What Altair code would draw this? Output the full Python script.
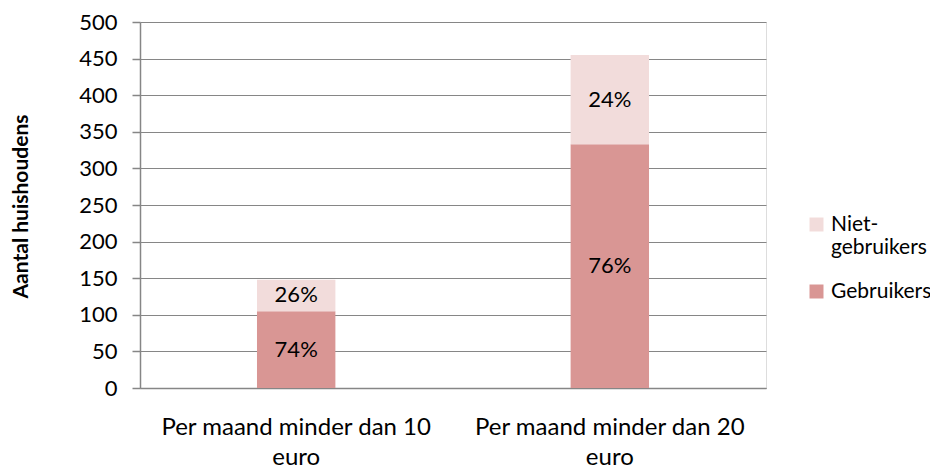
import altair as alt
import pandas as pd

categories = ["Per maand minder dan 10 euro", "Per maand minder dan 20 euro"]
series = ["Gebruikers", "Niet-gebruikers"]
gebruikers = [105, 333]
niet_gebruikers = [43, 122]
pct_gebruikers = ["74%", "76%"]
pct_niet = ["26%", "24%"]
colors = ["#D99694", "#F2DCDB"]
y_ticks = [0, 50, 100, 150, 200, 250, 300, 350, 400, 450, 500]

rows = []
for i, c in enumerate(categories):
    rows.append({"cat": c, "serie": series[0], "val": gebruikers[i], "lbl": pct_gebruikers[i], "ord": 0})
    rows.append({"cat": c, "serie": series[1], "val": niet_gebruikers[i], "lbl": pct_niet[i], "ord": 1})
df = pd.DataFrame(rows)

FONT = "Lato"

x_axis = alt.Axis(labelAngle=0, labelFontSize=24, labelFont=FONT, labelColor="#000000",
                  labelExpr="datum.label == '" + categories[0] + "' ? ['Per maand minder dan 10', 'euro'] : ['Per maand minder dan 20', 'euro']",
                  labelLineHeight=30, labelPadding=27, labelLimit=400, labelBaseline="top",
                  ticks=False, domain=True,
                  domainColor="#868686", domainWidth=1.5, grid=False)
x_scale = alt.Scale(paddingInner=0.75, paddingOuter=0.373)

y_axis = alt.Axis(values=y_ticks, tickCount=20, labelFontSize=22, labelFont=FONT, labelColor="#000000",
                  labelOverlap=False, labelPadding=15, tickSize=8, tickColor="#868686",
                  domainColor="#868686", tickWidth=1.5,
                  gridColor="#868686", gridWidth=1.2, domainWidth=1.5,
                  titleFont=FONT, titleFontSize=21, titleFontWeight="bold", titleColor="#000000",
                  titleX=-119, titleY=184, titleAngle=-90, titleAlign="center",
                  titleBaseline="middle")
y_scale = alt.Scale(domain=[0, 500], nice=False)

bars = alt.Chart(df).mark_bar().encode(
    x=alt.X("cat:N", sort=categories, title=None, scale=x_scale, axis=x_axis),
    y=alt.Y("val:Q", stack="zero", title="Aantal huishoudens", scale=y_scale, axis=y_axis),
    color=alt.Color("serie:N", scale=alt.Scale(domain=series, range=colors),
                    legend=alt.Legend(title=None, orient="none", legendX=666, legendY=192,
                                      symbolType="square", symbolSize=196, symbolStrokeWidth=0,
                                      labelFont=FONT, labelFontSize=21, labelColor="#000000",
                                      labelLimit=300, rowPadding=22, labelOffset=4,
                                      labelExpr="datum.label == 'Niet-gebruikers' ? ['Niet-', 'gebruikers'] : datum.label",
                                      values=["Niet-gebruikers", "Gebruikers"])),
    order=alt.Order("ord:Q"),
)

labels = alt.Chart(df).mark_text(font=FONT, fontSize=22, color="#000000", baseline="middle").encode(
    x=alt.X("cat:N", sort=categories, title=None, scale=x_scale, axis=x_axis),
    y=alt.Y("mid:Q", title="Aantal huishoudens", scale=y_scale, axis=y_axis),
    text="lbl:N",
).transform_stack(
    stack="val", groupby=["cat"], as_=["y0", "y1"], sort=[alt.SortField("ord")]
).transform_calculate(mid="(datum.y0 + datum.y1) / 2")

chart = alt.layer(bars, labels).properties(
    width=626, height=366,
    autosize=alt.AutoSizeParams(type="none"),
    padding={"left": 132, "top": 14, "right": 164, "bottom": 80},
).configure_view(stroke=None).configure(background="#ffffff")

chart.save("out.html", embed_options={"renderer": "svg", "actions": False})
